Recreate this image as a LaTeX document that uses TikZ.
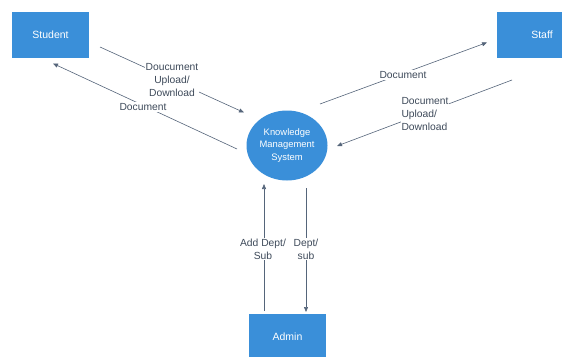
\documentclass[tikz,border=0pt]{standalone}
\usepackage{fontspec}
\setmainfont{Liberation Sans}
\usetikzlibrary{arrows.meta,shapes.geometric}
\definecolor{boxblue}{HTML}{3A8FD9}
\definecolor{flowline}{HTML}{55657A}
\definecolor{labeltext}{HTML}{3E4A5A}
\begin{document}
\begin{tikzpicture}[x=1pt,y=-1pt,
  entity/.style={draw=none, fill=boxblue, text=white, minimum width=77pt, minimum height=46pt,
    inner sep=0pt, font=\fontsize{10.5}{12}\selectfont},
  process/.style={ellipse, draw=none, fill=boxblue, text=white, minimum width=81pt, minimum height=70pt,
    inner sep=0pt, align=center, font=\fontsize{9.4}{12.5}\selectfont},
  flow/.style={draw=flowline, line width=0.6pt, -{Triangle[length=5pt,width=4pt]}},
  flowlabel/.style={fill=white, text=labeltext, inner sep=1pt, align=center,
    font=\fontsize{10.3}{13}\selectfont}]
\clip (0,0) rectangle (562,356);
\fill[white] (0,0) rectangle (562,356);

% external entities and the central process
\node[entity] (student) at (50.5,35) {Student};
\node[entity, minimum width=90pt] (staff) at (542,35) {Staff};
\node[entity] (admin) at (287.5,337) {Admin};
\node[process] (kms) at (287,145.5) {Knowledge\\Management\\System};

% end points of the data flows
\coordinate (s1) at (100,47);   \coordinate (k1) at (244,112.5);
\coordinate (k2) at (237,149);  \coordinate (s2) at (53,63.5);
\coordinate (k3) at (320,104);  \coordinate (t3) at (487,42.5);
\coordinate (t4) at (512,80);   \coordinate (k4) at (337,146);
\coordinate (a5) at (264,311);  \coordinate (k5) at (264,184);
\coordinate (k6) at (306,188);  \coordinate (a6) at (306,312);

% data flows
\draw[flow] (s1) -- (k1);
\draw[flow] (k2) -- (s2);
\draw[flow] (k3) -- (t3);
\draw[flow] (t4) -- (k4);
\draw[flow] (a5) -- (k5);
\draw[flow] (k6) -- (a6);

% flow labels
\node[flowlabel] (l1) at (172,80) {Doucument\\Upload/\\Download};
\node[flowlabel] (l2) at (143,107) {Document};
\node[flowlabel] (l3) at (403,75) {Document};
\node[flowlabel, align=left] (l4) at (425,114) {Document\\Upload/\\Download};
\node[flowlabel] (l5) at (263,249) {Add Dept/\\Sub};
\node[flowlabel] (l6) at (306,249) {Dept/\\sub};
\end{tikzpicture}
\end{document}
